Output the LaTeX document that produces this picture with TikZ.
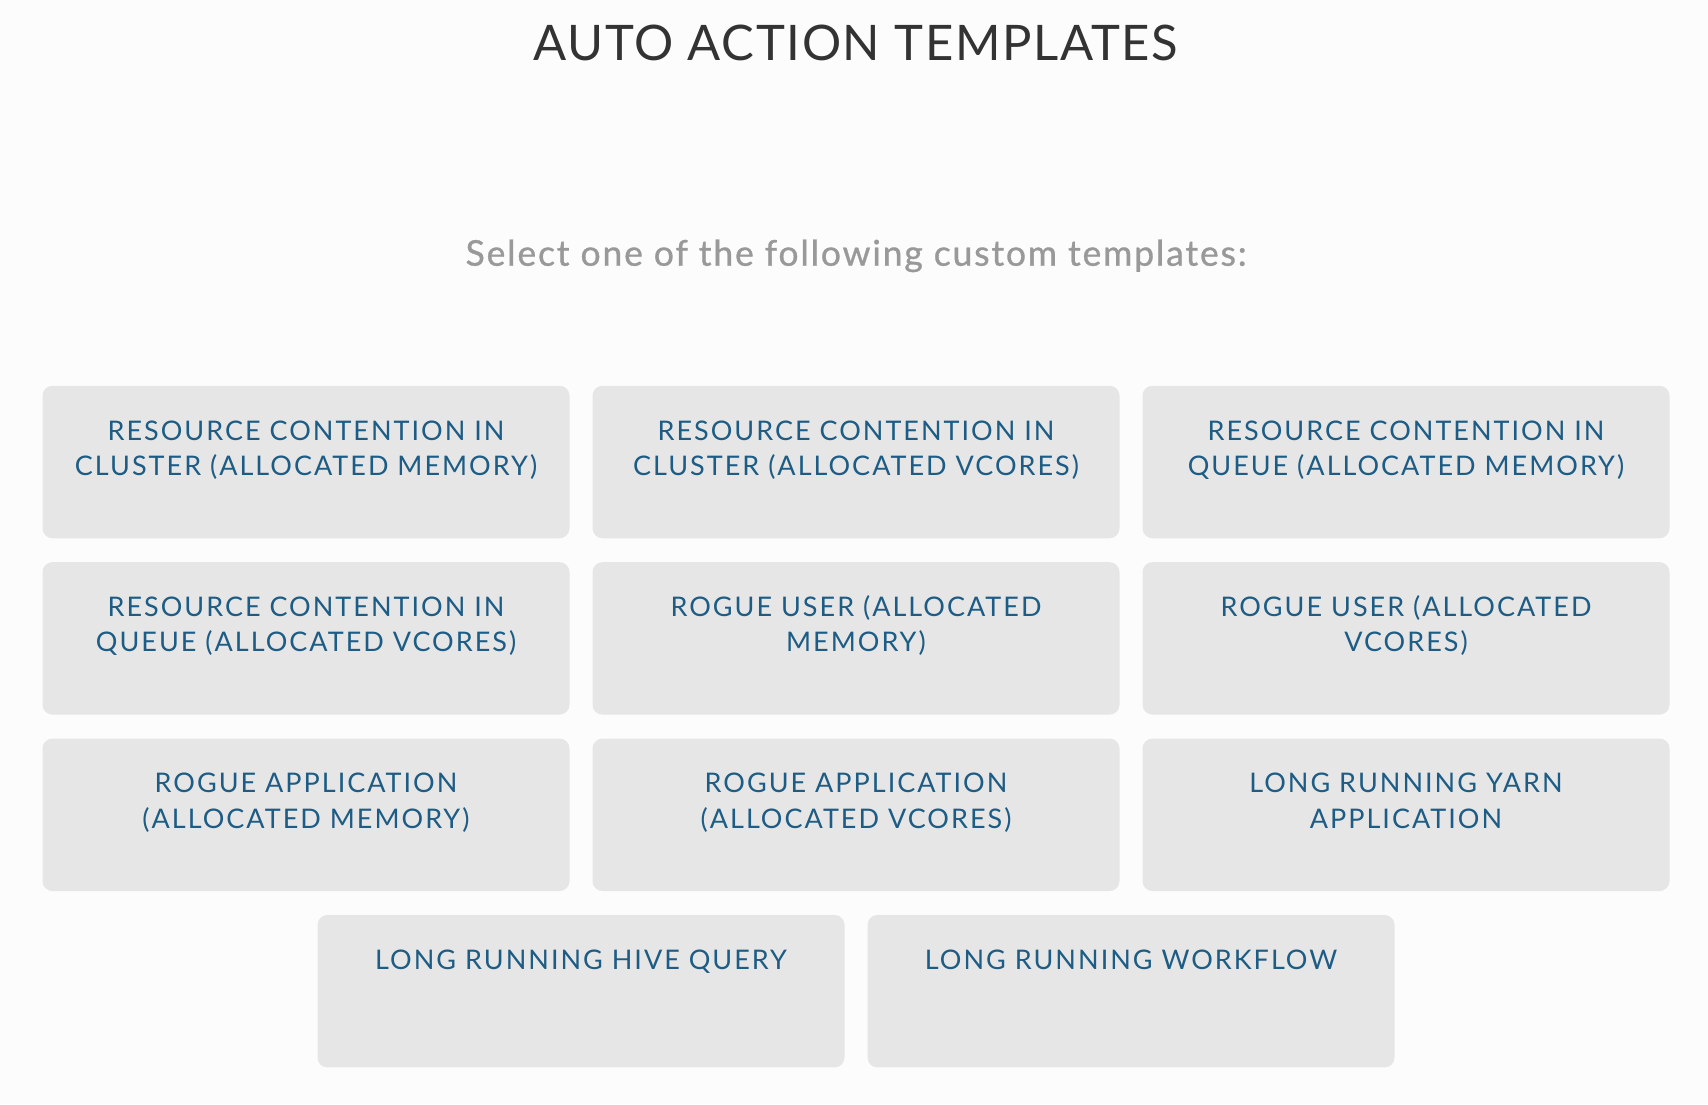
\documentclass[tikz,border=0pt]{standalone}
\usepackage{fontspec}
\setmainfont{Lato}
\newfontfamily\titlefont{Lato}[LetterSpace=3.3]
\newfontfamily\boxfont{Lato}[LetterSpace=7.4]
\newfontfamily\subfont{Lato}[LetterSpace=5.2,FakeBold=0.9]
\usetikzlibrary{positioning}
\definecolor{pagebg}{HTML}{FCFCFC}
\definecolor{boxbg}{HTML}{E6E6E6}
\definecolor{boxtext}{HTML}{1D5C84}
\definecolor{titletext}{HTML}{333333}
\definecolor{subtext}{HTML}{999999}
\tikzset{
  tmpl/.style={
      fill=boxbg,
      rounded corners=10pt,
      minimum width=527pt,
      minimum height=152.5pt,
      inner sep=0pt,
  },
  tmpltext/.style={
      text=boxtext,
      align=center,
      inner sep=0pt,
      font=\boxfont\fontsize{27}{35.3}\selectfont,
  }
}
\begin{document}
\begin{tikzpicture}[x=1pt,y=-1pt]
	\fill[pagebg] (0,0) rectangle (1708,1104);
	\useasboundingbox (0,0) rectangle (1708,1104);
	\node[anchor=base,text=titletext,font=\titlefont\fontsize{49}{58}\selectfont] (title) at (856,60) {AUTO ACTION TEMPLATES};
	\node[anchor=base,text=subtext,font=\subfont\fontsize{35.5}{42}\selectfont] (sub) at (856,265.7) {Select one of the following custom templates:};
	% first row
	\node[tmpl] (rcMem) at (306,462) {};
	\node[tmpl] (rcVc) at (856,462) {};
	\node[tmpl] (rqMem) at (1406,462) {};
	% second row
	\node[tmpl] (rqVc) at (306,638.4) {};
	\node[tmpl] (ruMem) at (856,638.4) {};
	\node[tmpl] (ruVc) at (1406,638.4) {};
	% third row
	\node[tmpl] (raMem) at (306,814.8) {};
	\node[tmpl] (raVc) at (856,814.8) {};
	\node[tmpl] (yarn) at (1406,814.8) {};
	% last row
	\node[tmpl] (hive) at (581,991.2) {};
	\node[tmpl] (wflow) at (1131,991.2) {};
	% labels
	\node[tmpltext,below=29.6pt of rcMem.north] (rcMem-t) {\strut RESOURCE CONTENTION IN\\CLUSTER (ALLOCATED MEMORY)};
	\node[tmpltext,below=29.6pt of rcVc.north] (rcVc-t) {\strut RESOURCE CONTENTION IN\\CLUSTER (ALLOCATED VCORES)};
	\node[tmpltext,below=29.6pt of rqMem.north] (rqMem-t) {\strut RESOURCE CONTENTION IN\\QUEUE (ALLOCATED MEMORY)};
	\node[tmpltext,below=29.6pt of rqVc.north] (rqVc-t) {\strut RESOURCE CONTENTION IN\\QUEUE (ALLOCATED VCORES)};
	\node[tmpltext,below=29.6pt of ruMem.north] (ruMem-t) {\strut ROGUE USER (ALLOCATED\\MEMORY)};
	\node[tmpltext,below=29.6pt of ruVc.north] (ruVc-t) {\strut ROGUE USER (ALLOCATED\\VCORES)};
	\node[tmpltext,below=29.6pt of raMem.north] (raMem-t) {\strut ROGUE APPLICATION\\(ALLOCATED MEMORY)};
	\node[tmpltext,below=29.6pt of raVc.north] (raVc-t) {\strut ROGUE APPLICATION\\(ALLOCATED VCORES)};
	\node[tmpltext,below=29.6pt of yarn.north] (yarn-t) {\strut LONG RUNNING YARN\\APPLICATION};
	\node[tmpltext,below=29.6pt of hive.north] (hive-t) {\strut LONG RUNNING HIVE QUERY};
	\node[tmpltext,below=29.6pt of wflow.north] (wflow-t) {\strut LONG RUNNING WORKFLOW};
\end{tikzpicture}
\end{document}
